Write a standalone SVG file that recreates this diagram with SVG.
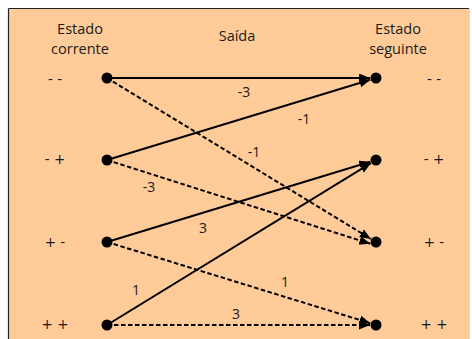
<svg xmlns="http://www.w3.org/2000/svg" width="472" height="339" viewBox="0 0 472 339">
<style>
text{font-family:"Open Sans","DejaVu Sans",sans-serif;font-size:14.5px;fill:#1a1a1a;text-anchor:middle}
.lbl{font-size:14px}
.st{font-family:"DejaVu Sans",sans-serif;font-size:13.5px}
.e{stroke:#000;stroke-width:2;fill:none;marker-end:url(#ah)}
.d{stroke-dasharray:4.5,2.5}
.dot{fill:#000}
</style>
<defs>
<marker id="ah" markerUnits="userSpaceOnUse" markerWidth="12" markerHeight="10" refX="11" refY="4.5" orient="auto">
<path d="M0,0 L11,4.5 L0,9 z" fill="#000"/>
</marker>
</defs>
<rect x="0" y="0" width="472" height="339" fill="#fff"/>
<rect x="9" y="9" width="460" height="330" fill="#FFCC99"/>
<line x1="8.5" y1="8.5" x2="469" y2="8.5" stroke="#222" stroke-width="1.2"/>
<line x1="8.5" y1="8.5" x2="8.5" y2="339" stroke="#222" stroke-width="1.2"/>
<line x1="469.5" y1="9" x2="469.5" y2="339" stroke="#ddd" stroke-width="1"/>
<g id="headers">
<text x="80" y="34">Estado</text>
<text x="80" y="54">corrente</text>
<text x="237" y="41">Saída</text>
<text x="398" y="34">Estado</text>
<text x="398" y="54">seguinte</text>
</g>
<g id="connectors">
<line class="e" x1="107" y1="78" x2="370" y2="78"/>
<line class="e d" x1="107" y1="78" x2="370.9" y2="238.9"/>
<line class="e" x1="107" y1="160" x2="370.3" y2="79.8"/>
<line class="e d" x1="107" y1="160" x2="370.3" y2="243.8"/>
<line class="e" x1="107" y1="242" x2="370.3" y2="161.8"/>
<line class="e d" x1="107" y1="242" x2="370.3" y2="323.2"/>
<line class="e" x1="107" y1="325" x2="370.9" y2="163.1"/>
<line class="e d" x1="107" y1="325" x2="370" y2="325"/>
<text class="lbl" x="244" y="97">-3</text>
<text class="lbl" x="304" y="124">-1</text>
<text class="lbl" x="254" y="157">-1</text>
<text class="lbl" x="149" y="192">-3</text>
<text class="lbl" x="203" y="233">3</text>
<text class="lbl" x="136" y="295">1</text>
<text class="lbl" x="285" y="287">1</text>
<text class="lbl" x="236" y="319">3</text>
</g>
<g id="cur-mm"><circle class="dot" cx="107" cy="78" r="5.5"/><text class="st" x="55" y="84">- -</text></g>
<g id="cur-mp"><circle class="dot" cx="107" cy="160" r="5.5"/><text class="st" x="55" y="164">- +</text></g>
<g id="cur-pm"><circle class="dot" cx="107" cy="242" r="5.5"/><text class="st" x="55" y="247">+ -</text></g>
<g id="cur-pp"><circle class="dot" cx="107" cy="325" r="5.5"/><text class="st" x="55" y="329">+ +</text></g>
<g id="next-mm"><circle class="dot" cx="376" cy="78" r="5.5"/><text class="st" x="434" y="84">- -</text></g>
<g id="next-mp"><circle class="dot" cx="376" cy="160" r="5.5"/><text class="st" x="434" y="164">- +</text></g>
<g id="next-pm"><circle class="dot" cx="376" cy="242" r="5.5"/><text class="st" x="434" y="247">+ -</text></g>
<g id="next-pp"><circle class="dot" cx="376" cy="325" r="5.5"/><text class="st" x="434" y="329">+ +</text></g>
</svg>
